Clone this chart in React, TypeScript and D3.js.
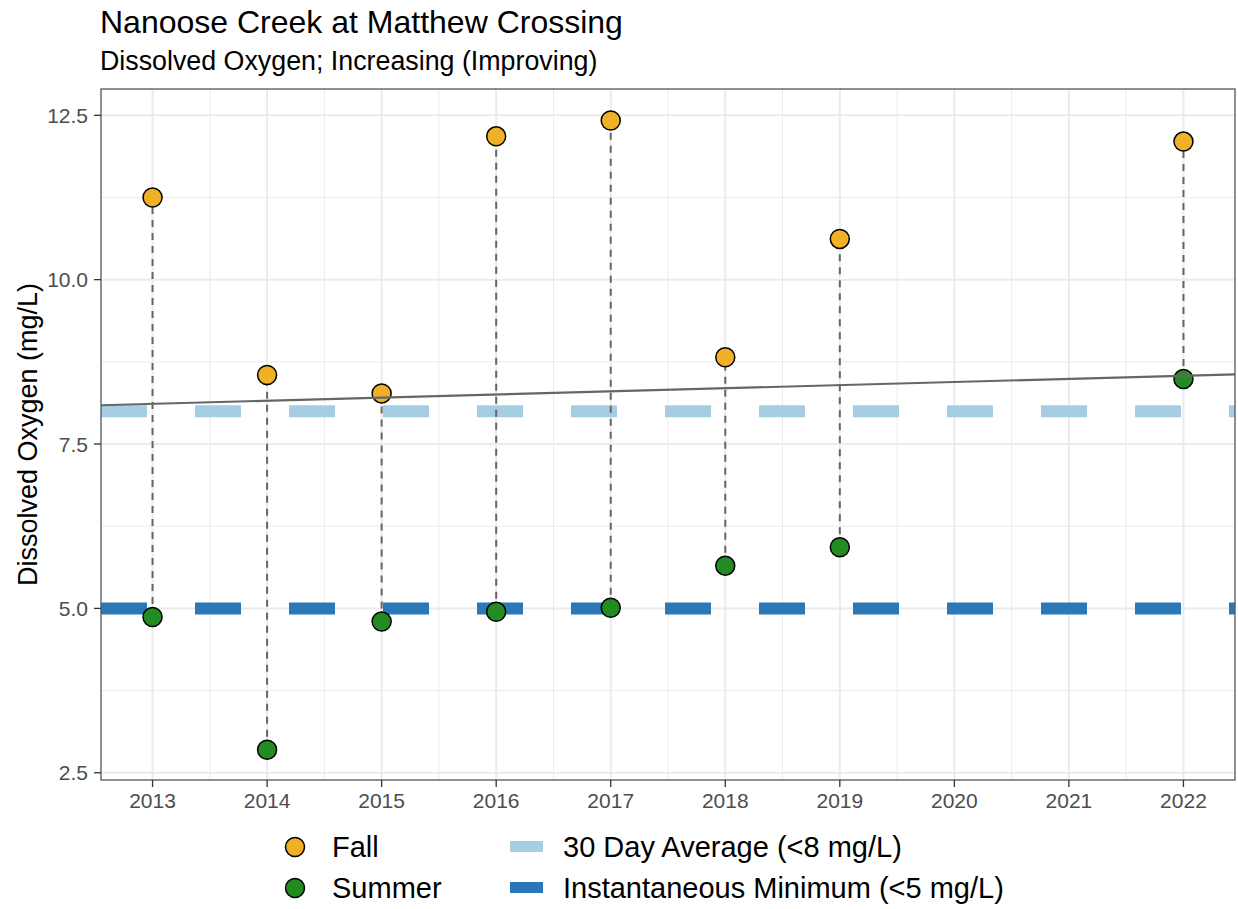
import React from "react";
import * as d3 from "d3";

// Sampling years and dissolved-oxygen readings (mg/L)
const years = [2013, 2014, 2015, 2016, 2017, 2018, 2019, 2022];
const fallValues = [11.25, 8.55, 8.27, 12.18, 12.42, 8.82, 10.62, 12.1];
const summerValues = [4.87, 2.85, 4.8, 4.95, 5.01, 5.65, 5.93, 8.49];

// Linear trend fitted across the record (endpoints at panel edges)
const trendYears = [2012.55, 2022.45];
const trendValues = [8.09, 8.56];

// Guideline thresholds
const guideAverage = 8;
const guideMinimum = 5;

const xTicks = [2013, 2014, 2015, 2016, 2017, 2018, 2019, 2020, 2021, 2022];
const yTicks = [2.5, 5.0, 7.5, 10.0, 12.5];
const yMinorTicks = [3.75, 6.25, 8.75, 11.25];

const W = 1238;
const H = 909;
const panel = { left: 101, top: 89, right: 1235, bottom: 780 };

const COLORS = {
  fall: "#F0B127",
  summer: "#228B22",
  average: "#A6CEE3",
  minimum: "#2A78B8",
  grid: "#EBEBEB",
  border: "#555555",
  axisText: "#4D4D4D",
};

const FONT = "'Liberation Sans', Arial, Helvetica, sans-serif";

export default function App() {
  const x = d3.scaleLinear().domain([2012.55, 2022.45]).range([panel.left, panel.right]);
  const y = d3.scaleLinear().domain([2.39, 12.9]).range([panel.bottom, panel.top]);

  const xMinor = d3.range(xTicks.length + 1).map((i) => 2012.5 + i);
  const trendLine = d3
    .line<number>()
    .x((_, i) => x(trendYears[i]))
    .y((v) => y(v));

  const guides = [
    { value: guideAverage, color: COLORS.average },
    { value: guideMinimum, color: COLORS.minimum },
  ];

  return (
    <svg
      width={W}
      height={H}
      style={{ position: "absolute", left: 0, top: 0, background: "#fff" }}
      fontFamily={FONT}
    >
      <defs>
        <clipPath id="panel-clip">
          <rect
            x={panel.left}
            y={panel.top}
            width={panel.right - panel.left}
            height={panel.bottom - panel.top}
          />
        </clipPath>
      </defs>

      {/* Titles */}
      <text x={100} y={33} fontSize={32} fill="#000">
        Nanoose Creek at Matthew Crossing
      </text>
      <text x={100} y={70} fontSize={26.8} fill="#000">
        Dissolved Oxygen; Increasing (Improving)
      </text>

      <g clipPath="url(#panel-clip)">
        {/* Grid lines */}
        {yMinorTicks.map((t) => (
          <line key={"ym" + t} x1={panel.left} x2={panel.right} y1={y(t)} y2={y(t)} stroke={COLORS.grid} strokeWidth={1} />
        ))}
        {xMinor.map((t) => (
          <line key={"xm" + t} x1={x(t)} x2={x(t)} y1={panel.top} y2={panel.bottom} stroke={COLORS.grid} strokeWidth={1} />
        ))}
        {yTicks.map((t) => (
          <line key={"y" + t} x1={panel.left} x2={panel.right} y1={y(t)} y2={y(t)} stroke={COLORS.grid} strokeWidth={2} />
        ))}
        {xTicks.map((t) => (
          <line key={"x" + t} x1={x(t)} x2={x(t)} y1={panel.top} y2={panel.bottom} stroke={COLORS.grid} strokeWidth={2} />
        ))}

        {/* Guideline thresholds */}
        {guides.map((g) => (
          <line
            key={"g" + g.value}
            x1={panel.left}
            x2={panel.right}
            y1={y(g.value)}
            y2={y(g.value)}
            stroke={g.color}
            strokeWidth={12}
            strokeDasharray="46 48"
          />
        ))}

        {/* Seasonal range segments */}
        {years.map((yr, i) => (
          <line
            key={"s" + yr}
            x1={x(yr)}
            x2={x(yr)}
            y1={y(summerValues[i])}
            y2={y(fallValues[i])}
            stroke="#666666"
            strokeWidth={2}
            strokeDasharray="7 6"
          />
        ))}

        {/* Points */}
        {years.map((yr, i) => (
          <circle key={"f" + yr} cx={x(yr)} cy={y(fallValues[i])} r={9.5} fill={COLORS.fall} stroke="#000" strokeWidth={1.5} />
        ))}
        {years.map((yr, i) => (
          <circle key={"u" + yr} cx={x(yr)} cy={y(summerValues[i])} r={9.5} fill={COLORS.summer} stroke="#000" strokeWidth={1.5} />
        ))}

        {/* Trend */}
        <path d={trendLine(trendValues) || ""} fill="none" stroke="#666666" strokeWidth={2.2} />
      </g>

      {/* Panel border */}
      <rect
        x={panel.left}
        y={panel.top}
        width={panel.right - panel.left}
        height={panel.bottom - panel.top}
        fill="none"
        stroke={COLORS.border}
        strokeWidth={1.3}
      />

      {/* Y axis */}
      {yTicks.map((t) => (
        <g key={"yt" + t}>
          <line x1={panel.left - 7} x2={panel.left} y1={y(t)} y2={y(t)} stroke="#333" strokeWidth={1.3} />
          <text x={panel.left - 13} y={y(t)} dy="0.36em" textAnchor="end" fontSize={21} fill={COLORS.axisText}>
            {t.toFixed(1)}
          </text>
        </g>
      ))}
      <text
        transform={`translate(37, ${(panel.top + panel.bottom) / 2}) rotate(-90)`}
        textAnchor="middle"
        fontSize={27}
        fill="#000"
      >
        Dissolved Oxygen (mg/L)
      </text>

      {/* X axis */}
      {xTicks.map((t) => (
        <g key={"xt" + t}>
          <line x1={x(t)} x2={x(t)} y1={panel.bottom} y2={panel.bottom + 7} stroke="#333" strokeWidth={1.3} />
          <text x={x(t)} y={panel.bottom + 28} textAnchor="middle" fontSize={21} fill={COLORS.axisText}>
            {t}
          </text>
        </g>
      ))}

      {/* Legend */}
      <g fontSize={29} fill="#000">
        <circle cx={295} cy={847} r={9.5} fill={COLORS.fall} stroke="#000" strokeWidth={1.5} />
        <text x={332} y={847} dy="0.36em">Fall</text>
        <circle cx={295} cy={888} r={9.5} fill={COLORS.summer} stroke="#000" strokeWidth={1.5} />
        <text x={332} y={888} dy="0.36em">Summer</text>
        <rect x={510} y={841} width={33} height={11} fill={COLORS.average} />
        <text x={563} y={847} dy="0.36em">30 Day Average (&lt;8 mg/L)</text>
        <rect x={510} y={882} width={33} height={11} fill={COLORS.minimum} />
        <text x={563} y={888} dy="0.36em">Instantaneous Minimum (&lt;5 mg/L)</text>
      </g>
    </svg>
  );
}
